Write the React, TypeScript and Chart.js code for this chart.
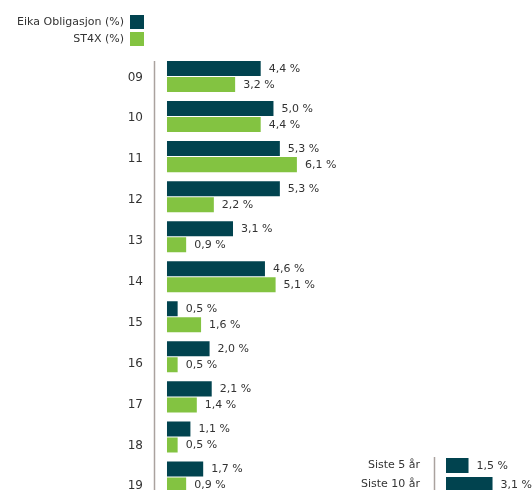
import React, { useEffect, useRef } from "react";
import { Chart, registerables } from "chart.js";

Chart.register(...registerables);

const years = ["09", "10", "11", "12", "13", "14", "15", "16", "17", "18", "19"];
const eikaValues = [4.4, 5.0, 5.3, 5.3, 3.1, 4.6, 0.5, 2.0, 2.1, 1.1, 1.7];
const st4xValues = [3.2, 4.4, 6.1, 2.2, 0.9, 5.1, 1.6, 0.5, 1.4, 0.5, 0.9];
const seriesNames = ["Eika Obligasjon (%)", "ST4X (%)"];
const summaryLabels = ["Siste 5 år", "Siste 10 år"];
const summaryValues = [1.5, 3.1];

const DARK = "#01434F";
const GREEN = "#83C341";
const TEXT = "#333333";
const FONT = "'DejaVu Sans', sans-serif";
const AXIS = "#aaa29e";

const fmt = (v: number) => v.toFixed(1).replace(".", ",") + " %";

const valueLabels = {
  id: "valueLabels",
  afterDatasetsDraw(chart: any) {
    const ctx = chart.ctx;
    ctx.save();
    ctx.font = "11px " + FONT;
    ctx.fillStyle = TEXT;
    ctx.textAlign = "left";
    ctx.textBaseline = "middle";
    chart.data.datasets.forEach((ds: any, di: number) => {
      const meta = chart.getDatasetMeta(di);
      meta.data.forEach((bar: any, i: number) => {
        ctx.fillText(fmt(ds.data[i]), bar.x + 8, bar.y + 0.5);
      });
    });
    ctx.restore();
  },
};

const axisLine = (offsetTop: number) => ({
  id: "axisLine",
  afterDatasetsDraw(chart: any) {
    const ctx = chart.ctx;
    const a = chart.chartArea;
    ctx.save();
    ctx.strokeStyle = AXIS;
    ctx.lineWidth = 1.5;
    ctx.beginPath();
    ctx.moveTo(a.left + 0.5, a.top + offsetTop);
    ctx.lineTo(a.left + 0.5, chart.height);
    ctx.stroke();
    ctx.restore();
  },
});

// the year labels are spaced slightly wider than the bar groups in the original
const labelAxisStretch = {
  id: "labelAxisStretch",
  afterLayout(chart: any) {
    const s = chart.scales.yl;
    if (!s) return;
    const a = chart.chartArea;
    s.top = a.top + 0.5;
    s.bottom = s.top + (a.bottom - a.top) * 1.021;
    s.configure();
  },
};

const fixAxis = (w: number) => (s: any) => {
  s.width = w;
  s.paddingTop = 0;
  s.paddingBottom = 0;
};

export default function App() {
  const mainRef = useRef<HTMLCanvasElement>(null);
  const miniRef = useRef<HTMLCanvasElement>(null);

  useEffect(() => {
    const main = new Chart(mainRef.current!, {
      type: "bar",
      data: {
        labels: years,
        datasets: [
          { label: seriesNames[0], data: eikaValues, backgroundColor: DARK },
          { label: seriesNames[1], data: st4xValues, backgroundColor: GREEN },
        ],
      },
      options: {
        indexAxis: "y",
        responsive: false,
        animation: false,
        events: [],
        layout: { padding: { top: 56.5, left: 0, right: 0, bottom: 0 } },
        datasets: { bar: { categoryPercentage: 0.8, barPercentage: 0.9375 } },
        plugins: { legend: { display: false }, tooltip: { enabled: false } },
        scales: {
          x: { display: false, min: -0.61, max: 17.14 },
          y: { type: "category", display: false },
          yl: {
            type: "category",
            position: "left",
            offset: true,
            afterFit: fixAxis(154),
            grid: { display: false, drawTicks: false },
            border: { display: false },
            ticks: { color: TEXT, font: { family: FONT, size: 12 }, padding: 11 },
          },
        },
      } as any,
      plugins: [valueLabels, axisLine(4.5), labelAxisStretch],
    });

    const mini = new Chart(miniRef.current!, {
      type: "bar",
      data: {
        labels: summaryLabels,
        datasets: [{ data: summaryValues, backgroundColor: DARK }],
      },
      options: {
        indexAxis: "y",
        responsive: false,
        animation: false,
        events: [],
        layout: { padding: { top: 16, left: 0, right: 0, bottom: 0 } },
        datasets: { bar: { categoryPercentage: 1, barPercentage: 0.79 } },
        plugins: { legend: { display: false }, tooltip: { enabled: false } },
        scales: {
          x: { display: false, min: -0.8, max: 5.73 },
          y: {
            afterFit: fixAxis(94),
            grid: { display: false, drawTicks: false },
            border: { display: false },
            ticks: { color: TEXT, font: { family: FONT, size: 11 }, padding: 14 },
          },
        },
      } as any,
      plugins: [valueLabels, axisLine(1)],
    });

    return () => {
      main.destroy();
      mini.destroy();
    };
  }, []);

  const legendText: React.CSSProperties = {
    position: "absolute",
    right: 532 - 124,
    fontFamily: FONT,
    fontSize: 11,
    color: TEXT,
    whiteSpace: "nowrap",
    lineHeight: "14px",
  };
  const box: React.CSSProperties = { position: "absolute", left: 130, width: 14, height: 14 };

  return (
    <div
      style={{
        position: "absolute",
        left: 0,
        top: 0,
        width: 532,
        height: 490,
        overflow: "hidden",
        background: "#fff",
      }}
    >
      <canvas
        ref={mainRef}
        width={532}
        height={497}
        style={{ position: "absolute", left: 0, top: 0, width: 532, height: 497 }}
      />
      <canvas
        ref={miniRef}
        width={192}
        height={54}
        style={{ position: "absolute", left: 340, top: 440, width: 192, height: 54 }}
      />
      <div style={{ ...legendText, top: 15 }}>{seriesNames[0]}</div>
      <div style={{ ...box, top: 15, background: DARK }} />
      <div style={{ ...legendText, top: 32 }}>{seriesNames[1]}</div>
      <div style={{ ...box, top: 32, background: GREEN }} />
    </div>
  );
}
